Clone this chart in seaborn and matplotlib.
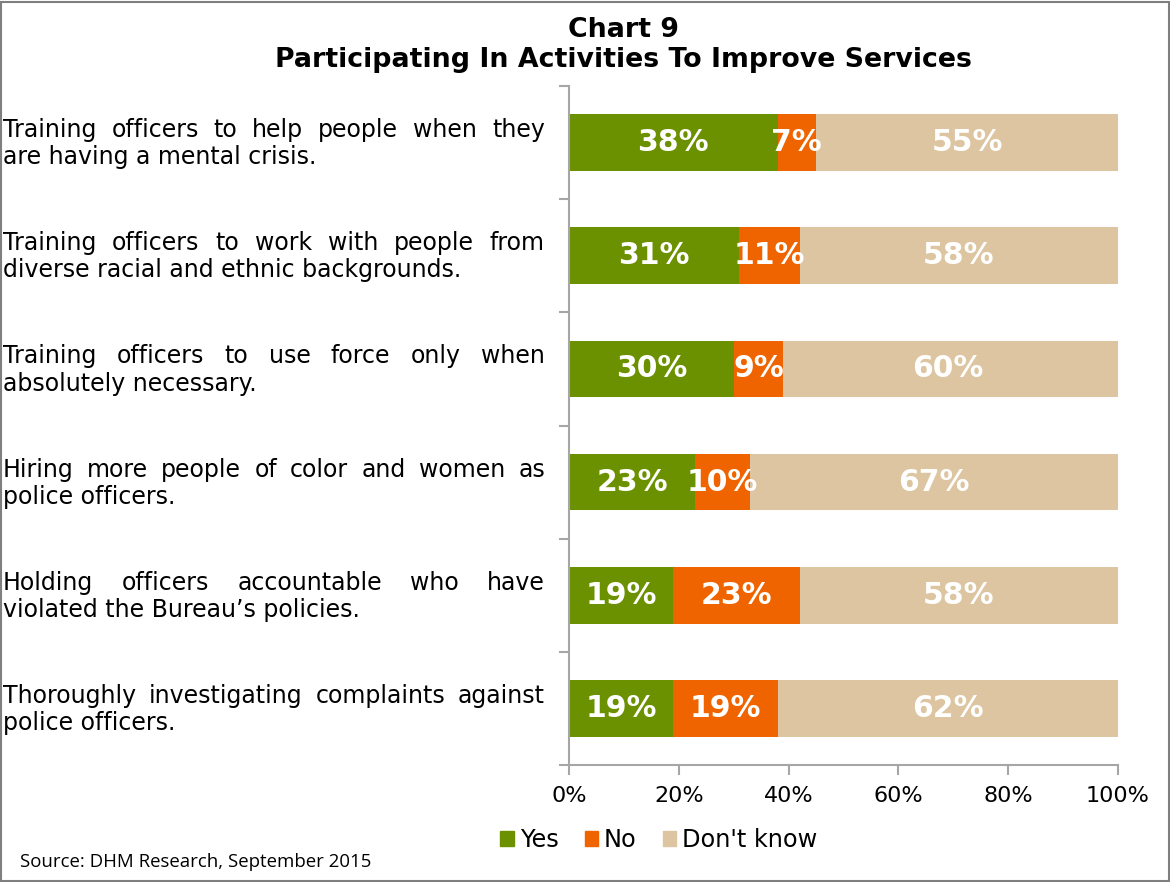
import os
import matplotlib
matplotlib.use('Agg')
import matplotlib.pyplot as plt
import matplotlib.patches as mpatches
from matplotlib.font_manager import FontProperties
import seaborn as sns
import pandas as pd

# data
categories = [
    'Training officers to help people when they\nare having a mental crisis.',
    'Training officers to work with people from\ndiverse racial and ethnic backgrounds.',
    'Training officers to use force only when\nabsolutely necessary.',
    'Hiring more people of color and women as\npolice officers.',
    'Holding officers accountable who have\nviolated the Bureau\u2019s policies.',
    'Thoroughly investigating complaints against\npolice officers.',
]
yes = [38, 31, 30, 23, 19, 19]
no = [7, 11, 9, 10, 23, 19]
dont_know = [55, 58, 60, 67, 58, 62]
series_names = ['Yes', 'No', "Don't know"]
colors = ['#6B9100', '#F06400', '#DCC5A0']
xticks = [0, 20, 40, 60, 80, 100]

sns.set_style('white')
plt.rcParams['font.family'] = ['DejaVu Sans']
plt.rcParams['text.color'] = 'black'
plt.rcParams['xtick.color'] = 'black'
plt.rcParams['ytick.color'] = 'black'

# point straight at the DejaVu files shipped with matplotlib
ttf_dir = os.path.join(matplotlib.get_data_path(), 'fonts', 'ttf')

def reg(size):
    return FontProperties(fname=os.path.join(ttf_dir, 'DejaVuSans.ttf'), size=size)

def bold(size):
    return FontProperties(fname=os.path.join(ttf_dir, 'DejaVuSans-Bold.ttf'), size=size)

W, H = 1170, 882
fig = plt.figure(figsize=(W / 100, H / 100), dpi=100)
ax = fig.add_axes([569 / W, 1 - 765 / H, (1118 - 569) / W, (765 - 86) / H])

df = pd.DataFrame({'cat': categories, 'Yes': yes, 'No': no, "Don't know": dont_know})
df['cum_no'] = df['Yes'] + df['No']
# shares are rounded, so the whole bar always runs to 100%
df['cum_dk'] = 100

# stacked bars: draw cumulative totals back to front
for col, c in [('cum_dk', colors[2]), ('cum_no', colors[1]), ('Yes', colors[0])]:
    sns.barplot(data=df, x=col, y='cat', color=c, width=0.5, saturation=1,
                orient='h', ax=ax, edgecolor='none')

# value labels in each segment
for i in range(len(categories)):
    left = 0
    for name in series_names:
        v = df[name][i]
        ax.text(left + v / 2, i, '%d%%' % v, ha='center', va='center',
                color='white', fontproperties=bold(21.5))
        left += v

ax.set_xlim(0, 100)
ax.set_ylim(len(categories) - 0.5, -0.5)
ax.set_xlabel('')
ax.set_ylabel('')
ax.set_xticks(xticks)
ax.set_xticklabels(['%d%%' % t for t in xticks])
for lbl in ax.get_xticklabels():
    lbl.set_fontproperties(reg(16))
ax.set_yticks([i - 0.5 for i in range(len(categories) + 1)])
ax.set_yticklabels([])
ax.tick_params(axis='both', direction='out', length=7, width=1.5, color='#A6A6A6',
               pad=8, left=True, bottom=True)
for s in ['top', 'right']:
    ax.spines[s].set_visible(False)
for s in ['left', 'bottom']:
    ax.spines[s].set_color('#A6A6A6')
    ax.spines[s].set_linewidth(1.5)

# category labels, first line justified like the original
fig.canvas.draw()
renderer = fig.canvas.get_renderer()
lab_size = 17
x0, x1 = 3, 545
offsets = [-0.11, 0.13]

def word_width(w):
    t = fig.text(0, 0, w, fontproperties=reg(lab_size))
    wd = t.get_window_extent(renderer).width
    t.remove()
    return wd

for i, cat in enumerate(categories):
    lines = cat.split('\n')
    for j, line in enumerate(lines):
        yfig = fig.transFigure.inverted().transform(
            ax.transData.transform((0, i + offsets[j])))[1]
        if j == 0 and len(lines) > 1:
            words = line.split(' ')
            widths = [word_width(w) for w in words]
            gap = (x1 - x0 - sum(widths)) / (len(words) - 1)
            xp = x0
            for w, wd in zip(words, widths):
                fig.text(xp / W, yfig, w, fontproperties=reg(lab_size),
                         va='center', ha='left')
                xp += wd + gap
        else:
            fig.text(x0 / W, yfig, line, fontproperties=reg(lab_size),
                     va='center', ha='left')

# titles
fig.text(623 / W, 1 - 30 / H, 'Chart 9', ha='center', va='center',
         fontproperties=bold(19.3))
fig.text(623 / W, 1 - 60 / H, 'Participating In Activities To Improve Services',
         ha='center', va='center', fontproperties=bold(19.3))

# legend
handles = [mpatches.Patch(color=c, label=n) for c, n in zip(colors, series_names)]
fig.legend(handles=handles, loc='center', bbox_to_anchor=(659 / W, 1 - 840 / H),
           ncol=3, frameon=False, prop=reg(17.3),
           handlelength=0.55, handleheight=0.55, handletextpad=0.25, columnspacing=1.1)

fig.text(20 / W, 1 - 862 / H, 'Source: DHM Research, September 2015',
         fontsize=13.4, family='Open Sans', va='center', ha='left')

fig.patches.append(mpatches.Rectangle((0.001, 0.001), 0.998, 0.997, transform=fig.transFigure,
                                      fill=False, edgecolor='#7F7F7F', linewidth=1.5))

fig.savefig('out.png', dpi=100)
